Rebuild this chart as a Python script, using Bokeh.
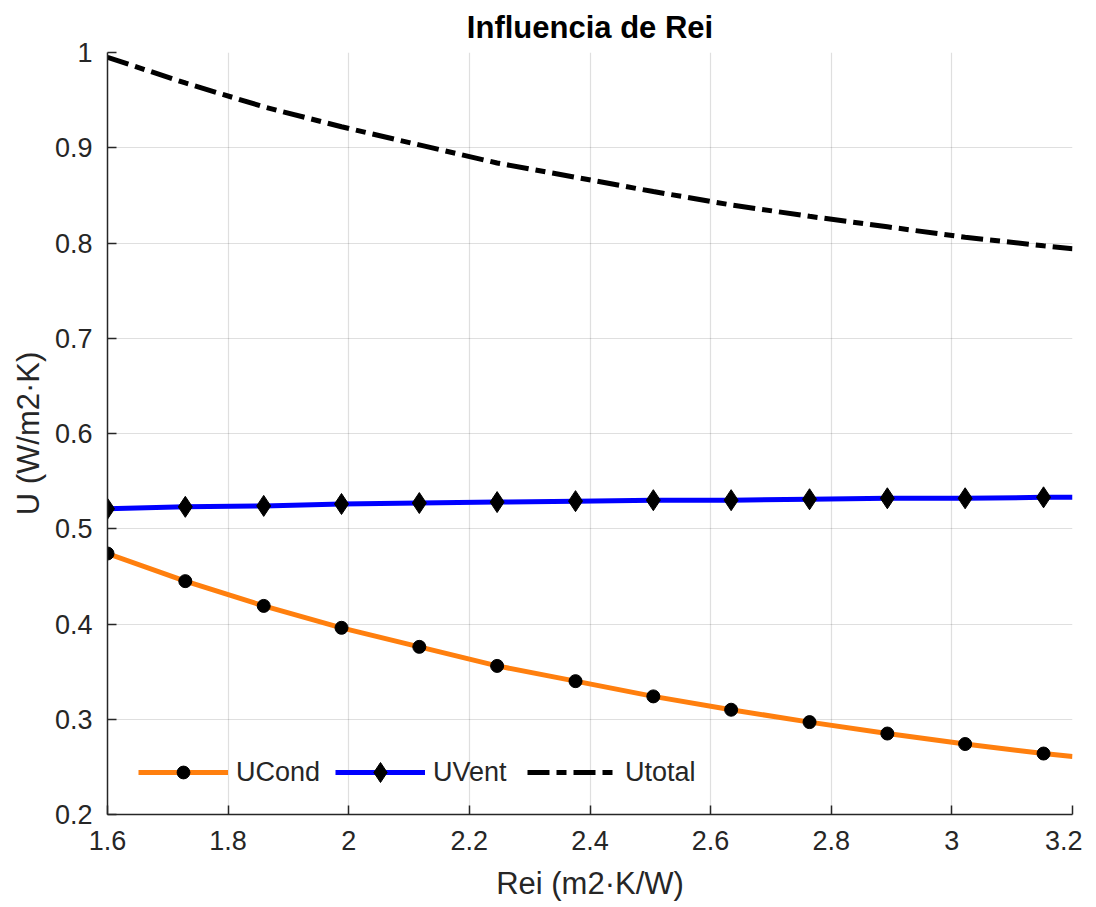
from bokeh.plotting import figure
from bokeh.models import Range1d, FixedTicker, CustomJSTickFormatter, Legend, LegendItem
from bokeh.embed import file_html
from bokeh.resources import INLINE

# ---- data ----
rei = [1.600, 1.729, 1.859, 1.988, 2.117, 2.246, 2.376, 2.505, 2.634, 2.764, 2.893, 3.022, 3.152, 3.200]
u_cond = [0.474, 0.445, 0.419, 0.396, 0.376, 0.356, 0.340, 0.324, 0.310, 0.297, 0.285, 0.274, 0.264, 0.261]
u_vent = [0.521, 0.523, 0.524, 0.526, 0.527, 0.528, 0.529, 0.530, 0.530, 0.531, 0.532, 0.532, 0.533, 0.533]
u_total = [0.995, 0.968, 0.943, 0.922, 0.903, 0.884, 0.869, 0.854, 0.840, 0.828, 0.817, 0.806, 0.797, 0.794]
n_markers = 13  # markers shown on the first 13 points

x_ticks = [1.6, 1.8, 2.0, 2.2, 2.4, 2.6, 2.8, 3.0, 3.2]
y_ticks = [0.2, 0.3, 0.4, 0.5, 0.6, 0.7, 0.8, 0.9, 1.0]

title_text = "Influencia de Rei"
x_label = "Rei (m2·K/W)"
y_label = "U (W/m2·K)"
names = ["UCond", "UVent", "Utotal"]

FONT = "Liberation Sans"
AX = "#262626"

p = figure(frame_width=965, frame_height=762, output_backend="svg", toolbar_location=None,
           x_range=Range1d(1.6, 3.2), y_range=Range1d(0.2, 1.0),
           min_border_left=107, min_border_right=10, min_border_top=50, min_border_bottom=10)

p.title.text = title_text
p.title.text_font = FONT
p.title.text_font_size = "31px"
p.title.text_font_style = "bold"
p.title.text_color = "#000000"
p.title.align = "center"
p.title.standoff = 15

p.outline_line_color = None
p.background_fill_color = "white"
p.border_fill_color = "white"

fmt = CustomJSTickFormatter(code="return (Math.round(tick*10)/10).toString();")
for ax, ticks in ((p.xaxis[0], x_ticks), (p.yaxis[0], y_ticks)):
    ax.ticker = FixedTicker(ticks=ticks)
    ax.formatter = fmt
    ax.axis_line_color = AX
    ax.axis_line_width = 1.5
    ax.major_tick_line_color = AX
    ax.major_tick_line_width = 1.5
    ax.major_tick_in = 9
    ax.major_tick_out = 0
    ax.minor_tick_line_color = None
    ax.major_label_text_font = FONT
    ax.major_label_text_font_size = "27px"
    ax.major_label_text_color = AX
    ax.major_label_text_line_height = 1.0
    ax.axis_label_text_font = FONT
    ax.axis_label_text_font_size = "31px"
    ax.axis_label_text_font_style = "normal"
    ax.axis_label_text_color = AX
    ax.axis_label_text_line_height = 1.0

p.xaxis.axis_label = x_label
p.yaxis.axis_label = y_label
p.xaxis.major_label_standoff = 16
p.xaxis.axis_label_standoff = 13
p.yaxis.major_label_standoff = 15
p.yaxis.axis_label_standoff = 6

for g in (p.xgrid[0], p.ygrid[0]):
    g.grid_line_color = "#262626"
    g.grid_line_alpha = 0.15
    g.grid_line_width = 1.2
p.xgrid.ticker = FixedTicker(ticks=x_ticks)
p.ygrid.ticker = FixedTicker(ticks=y_ticks)

orange = "#FF7F0E"
blue = "#0000FF"

l1 = p.line(rei, u_cond, line_color=orange, line_width=5)
m1 = p.scatter(rei[:n_markers], u_cond[:n_markers], marker="circle", size=13,
               fill_color="black", line_color="black")
l2 = p.line(rei, u_vent, line_color=blue, line_width=5)
m2 = p.scatter(rei[:n_markers], u_vent[:n_markers], marker="diamond", size=21,
               fill_color="black", line_color="black")
l3 = p.line(rei, u_total, line_color="black", line_width=5, line_dash="22 7 10 7")

common = dict(orientation="horizontal", glyph_width=90, label_standoff=8,
              padding=10, margin=0, label_text_font=FONT, label_text_font_size="27px",
              label_text_color=AX, border_line_color=None, background_fill_alpha=0)

leg1 = Legend(items=[LegendItem(label=names[0], renderers=[l1, m1])],
              location=(31, 26), glyph_height=32, **common)
leg2 = Legend(items=[LegendItem(label=names[1], renderers=[l2, m2])],
              location=(228, 17), glyph_height=50, **common)
leg3 = Legend(items=[LegendItem(label=names[2], renderers=[l3])],
              location=(420, 26), glyph_height=32, **common)
for lg in (leg1, leg2, leg3):
    p.add_layout(lg, "center")

open("out.html", "w").write(file_html(p, INLINE))
